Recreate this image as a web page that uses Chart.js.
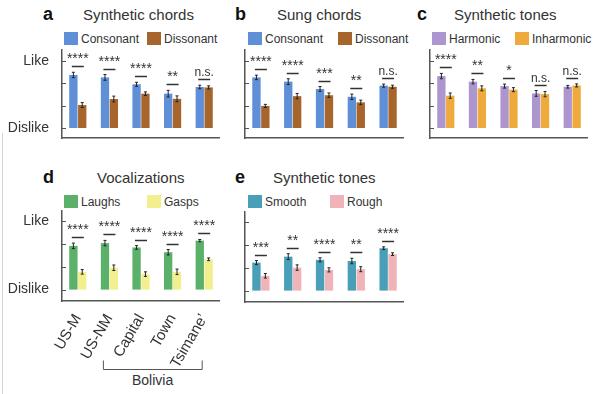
<!DOCTYPE html>
<html lang="en">
<head>
    <meta charset="UTF-8">
    <title>Consonance preferences</title>
    <script src="https://cdn.jsdelivr.net/npm/chart.js"></script>
<style>
    body {
        margin: 0;
        background: white;
        font-family: "Liberation Sans", Arial, sans-serif;
        color: #333;
    }
    #page {
        position: relative;
        width: 600px;
        height: 394px;
        overflow: hidden;
    }
    #page canvas {
        position: absolute;
    }
    .txt {
        position: absolute;
        white-space: nowrap;
        line-height: 20px;
        height: 20px;
    }
    .letter {
        font-weight: bold;
        font-size: 18px;
        color: #111;
    }
    .title {
        font-size: 15px;
    }
    .leg {
        position: absolute;
        display: flex;
        align-items: center;
        font-size: 12px;
        white-space: nowrap;
        height: 13px;
    }
    .leg span.box {
        display: inline-block;
        width: 14px;
        height: 13px;
        margin-right: 3px;
    }
    .edge {
        position: absolute;
        left: 2px;
        top: 133px;
        width: 1px;
        height: 261px;
        background: #d4d4d4;
    }
</style>
</head>
<body>
<div id="page">
    <div class="edge"></div>

    <div class="txt letter" style="left:43px; top:4px;">a</div>
    <div class="txt title" style="left:83px; top:5px;">Synthetic chords</div>
    <div class="leg" style="left:64px; top:32px;"><span class="box" style="background:#5f8fd6"></span>Consonant</div>
    <div class="leg" style="left:147px; top:32px;"><span class="box" style="background:#a8652b"></span>Dissonant</div>

    <div class="txt letter" style="left:235px; top:4px;">b</div>
    <div class="txt title" style="left:277px; top:5px;">Sung chords</div>
    <div class="leg" style="left:248px; top:32px;"><span class="box" style="background:#5f8fd6"></span>Consonant</div>
    <div class="leg" style="left:338px; top:32px;"><span class="box" style="background:#a8652b"></span>Dissonant</div>

    <div class="txt letter" style="left:417px; top:4px;">c</div>
    <div class="txt title" style="left:454px; top:5px;">Synthetic tones</div>
    <div class="leg" style="left:432px; top:32px;"><span class="box" style="background:#ad96cf"></span>Harmonic</div>
    <div class="leg" style="left:515px; top:32px;"><span class="box" style="background:#eeaa3a"></span>Inharmonic</div>

    <div class="txt letter" style="left:43px; top:167px;">d</div>
    <div class="txt title" style="left:97px; top:168px;">Vocalizations</div>
    <div class="leg" style="left:64px; top:195px;"><span class="box" style="background:#5bb06a"></span>Laughs</div>
    <div class="leg" style="left:147px; top:195px;"><span class="box" style="background:#f3ef8e"></span>Gasps</div>

    <div class="txt letter" style="left:235px; top:167px;">e</div>
    <div class="txt title" style="left:273px; top:168px;">Synthetic tones</div>
    <div class="leg" style="left:248px; top:195px;"><span class="box" style="background:#4a9fb8"></span>Smooth</div>
    <div class="leg" style="left:330px; top:195px;"><span class="box" style="background:#efb3b8"></span>Rough</div>

    <div class="txt" style="left:132px; top:370px; font-size:14px;">Bolivia</div>

    <canvas id="chartA" width="220" height="100" style="left:0px; top:44px;"></canvas>
    <canvas id="chartB" width="167" height="100" style="left:237px; top:44px;"></canvas>
    <canvas id="chartC" width="166" height="100" style="left:422px; top:44px;"></canvas>
    <canvas id="chartD" width="220" height="189" style="left:0px; top:205px;"></canvas>
    <canvas id="chartE" width="167" height="100" style="left:237px; top:206px;"></canvas>
</div>

<script>
    // groups (only labelled under panel d)
    const groups = ["US-M", "US-NM", "Capital", "Town", "Tsimane\u2019"];

    // a - synthetic chords
    const aConsonant = [2.38, 2.27, 1.96, 1.54, 1.84];
    const aConsonantErr = [0.12, 0.13, 0.09, 0.15, 0.08];
    const aDissonant = [1.03, 1.30, 1.54, 1.31, 1.82];
    const aDissonantErr = [0.11, 0.13, 0.08, 0.13, 0.07];
    const aSig = ["****", "****", "****", "**", "n.s."];

    // b - sung chords
    const bConsonant = [2.27, 2.08, 1.75, 1.40, 1.90];
    const bConsonantErr = [0.10, 0.13, 0.11, 0.12, 0.07];
    const bDissonant = [0.99, 1.43, 1.47, 1.15, 1.85];
    const bDissonantErr = [0.07, 0.12, 0.10, 0.10, 0.07];
    const bSig = ["****", "****", "***", "**", "n.s."];

    // c - synthetic tones (harmonicity)
    const cHarmonic = [2.33, 2.08, 1.88, 1.55, 1.85];
    const cHarmonicErr = [0.12, 0.10, 0.09, 0.13, 0.06];
    const cInharmonic = [1.45, 1.78, 1.72, 1.52, 1.91];
    const cInharmonicErr = [0.12, 0.11, 0.09, 0.12, 0.07];
    const cSig = ["****", "**", "*", "n.s.", "n.s."];

    // d - vocalizations
    const dLaughs = [1.92, 2.04, 1.85, 1.64, 2.15];
    const dLaughsErr = [0.12, 0.12, 0.08, 0.12, 0.05];
    const dGasps = [0.78, 0.96, 0.68, 0.78, 1.33];
    const dGaspsErr = [0.10, 0.12, 0.10, 0.12, 0.06];
    const dSig = ["****", "****", "****", "****", "****"];

    // e - synthetic tones (roughness)
    const eSmooth = [1.23, 1.49, 1.35, 1.30, 1.86];
    const eSmoothErr = [0.09, 0.13, 0.09, 0.12, 0.06];
    const eRough = [0.65, 1.01, 0.91, 0.94, 1.60];
    const eRoughErr = [0.10, 0.12, 0.09, 0.11, 0.06];
    const eSig = ["***", "**", "****", "**", "****"];

    const yTicks = [0, 1, 2, 3];

    Chart.defaults.font.family = '"Liberation Sans", Arial, sans-serif';
    Chart.defaults.color = "#333";

    function line(ctx, x1, y1, x2, y2) {
        ctx.beginPath();
        ctx.moveTo(x1, y1);
        ctx.lineTo(x2, y2);
        ctx.stroke();
    }

    // tick marks inside the axis, error bars, significance marks, bracket
    const panelMarks = {
        id: "panelMarks",
        afterDatasetsDraw(chart, args, opts) {
            const ctx = chart.ctx;
            const x = chart.scales.x, y = chart.scales.y;
            const area = chart.chartArea;
            ctx.save();

            ctx.strokeStyle = "#555";
            ctx.lineWidth = 1;
            yTicks.forEach(v => {
                const py = Math.round(y.getPixelForValue(v)) + 0.5;
                line(ctx, area.left, py, area.left + 4, py);
            });

            ctx.strokeStyle = "#222";
            chart.data.datasets.forEach((ds, di) => {
                chart.getDatasetMeta(di).data.forEach((bar, i) => {
                    const e = opts.errors[di][i];
                    const top = y.getPixelForValue(ds.data[i] + e);
                    const bot = y.getPixelForValue(ds.data[i] - e);
                    line(ctx, bar.x, top, bar.x, bot);
                    line(ctx, bar.x - 1.5, top, bar.x + 1.5, top);
                    line(ctx, bar.x - 1.5, bot, bar.x + 1.5, bot);
                });
            });

            opts.sig.forEach((s, i) => {
                let top = Infinity;
                chart.data.datasets.forEach((ds, di) => {
                    top = Math.min(top, y.getPixelForValue(ds.data[i] + opts.errors[di][i]));
                });
                const cx = x.getPixelForValue(i);
                const ly = Math.round(top - 6) + 0.5;
                ctx.strokeStyle = "#333";
                ctx.lineWidth = 1.5;
                line(ctx, cx - 6, ly, cx + 6, ly);
                ctx.fillStyle = "#333";
                ctx.textAlign = "center";
                ctx.textBaseline = "alphabetic";
                ctx.font = (s === "n.s." ? "12px" : "14px") + ' "Liberation Sans", Arial, sans-serif';
                ctx.fillText(s, cx, ly - 4);
            });

            if (opts.bracket) {
                const x1 = x.getPixelForValue(opts.bracket[0]) - 6;
                const x2 = x.getPixelForValue(opts.bracket[1]) - 2;
                const by = area.bottom + 68.5;
                ctx.strokeStyle = "#555";
                ctx.lineWidth = 1;
                line(ctx, x1, by, x2, by);
                line(ctx, x1, by - 9, x1, by);
                line(ctx, x2, by - 9, x2, by);
            }
            ctx.restore();
        }
    };

    function makePanel(id, series, colors, errors, sig, cfg) {
        new Chart(document.getElementById(id), {
            type: "bar",
            data: {
                labels: groups,
                datasets: series.map((s, i) => ({
                    data: s,
                    backgroundColor: colors[i],
                    borderWidth: 0,
                    barPercentage: 0.94,
                    categoryPercentage: 0.56
                }))
            },
            options: {
                responsive: false,
                animation: false,
                devicePixelRatio: 1,
                layout: { autoPadding: false, padding: { top: cfg.padTop, left: 0, right: 0, bottom: 0 } },
                plugins: {
                    legend: { display: false },
                    tooltip: { enabled: false },
                    panelMarks: { errors: errors, sig: sig, bracket: cfg.bracket }
                },
                scales: {
                    x: {
                        grid: { display: false },
                        border: { display: true, color: "#555", width: 1.5 },
                        ticks: {
                            display: !!cfg.showX,
                            minRotation: 60,
                            maxRotation: 60,
                            padding: 2,
                            font: { size: 15 },
                            color: "#333"
                        },
                        afterFit: s => {
                            s.height = cfg.xHeight;
                            s.paddingLeft = 0; s.paddingRight = 0;
                            s.paddingTop = 0; s.paddingBottom = 0;
                        }
                    },
                    y: {
                        min: cfg.yMin,
                        max: cfg.yMax,
                        grid: { display: false },
                        border: { display: true, color: "#555", width: 1.5 },
                        afterBuildTicks: s => { s.ticks = yTicks.map(v => ({ value: v })); },
                        ticks: {
                            display: !!cfg.showY,
                            padding: 5,
                            font: { size: 14 },
                            color: "#333",
                            callback: v => v === 3 ? "Like" : (v === 0 ? "Dislike" : "")
                        },
                        afterFit: s => {
                            s.width = cfg.yWidth;
                            s.paddingLeft = 0; s.paddingRight = 0;
                            s.paddingTop = 0; s.paddingBottom = 0;
                        }
                    }
                }
            },
            plugins: [panelMarks]
        });
    }

    const top3 = { yMin: -0.45, yMax: 3.5, padTop: 6, xHeight: 6 };
    const bottom2 = { yMin: -0.5, yMax: 3.45, padTop: 6 };

    makePanel("chartA", [aConsonant, aDissonant], ["#5f8fd6", "#a8652b"],
        [aConsonantErr, aDissonantErr], aSig, Object.assign({}, top3, { yWidth: 62, showY: true }));
    makePanel("chartB", [bConsonant, bDissonant], ["#5f8fd6", "#a8652b"],
        [bConsonantErr, bDissonantErr], bSig, Object.assign({}, top3, { yWidth: 8 }));
    makePanel("chartC", [cHarmonic, cInharmonic], ["#ad96cf", "#eeaa3a"],
        [cHarmonicErr, cInharmonicErr], cSig, Object.assign({}, top3, { yWidth: 8 }));
    makePanel("chartD", [dLaughs, dGasps], ["#5bb06a", "#f3ef8e"],
        [dLaughsErr, dGaspsErr], dSig, Object.assign({}, bottom2, { yWidth: 62, showY: true, showX: true, xHeight: 93, bracket: [1, 4] }));
    makePanel("chartE", [eSmooth, eRough], ["#4a9fb8", "#efb3b8"],
        [eSmoothErr, eRoughErr], eSig, Object.assign({}, bottom2, { yWidth: 8, xHeight: 4 }));
</script>
</body>
</html>
